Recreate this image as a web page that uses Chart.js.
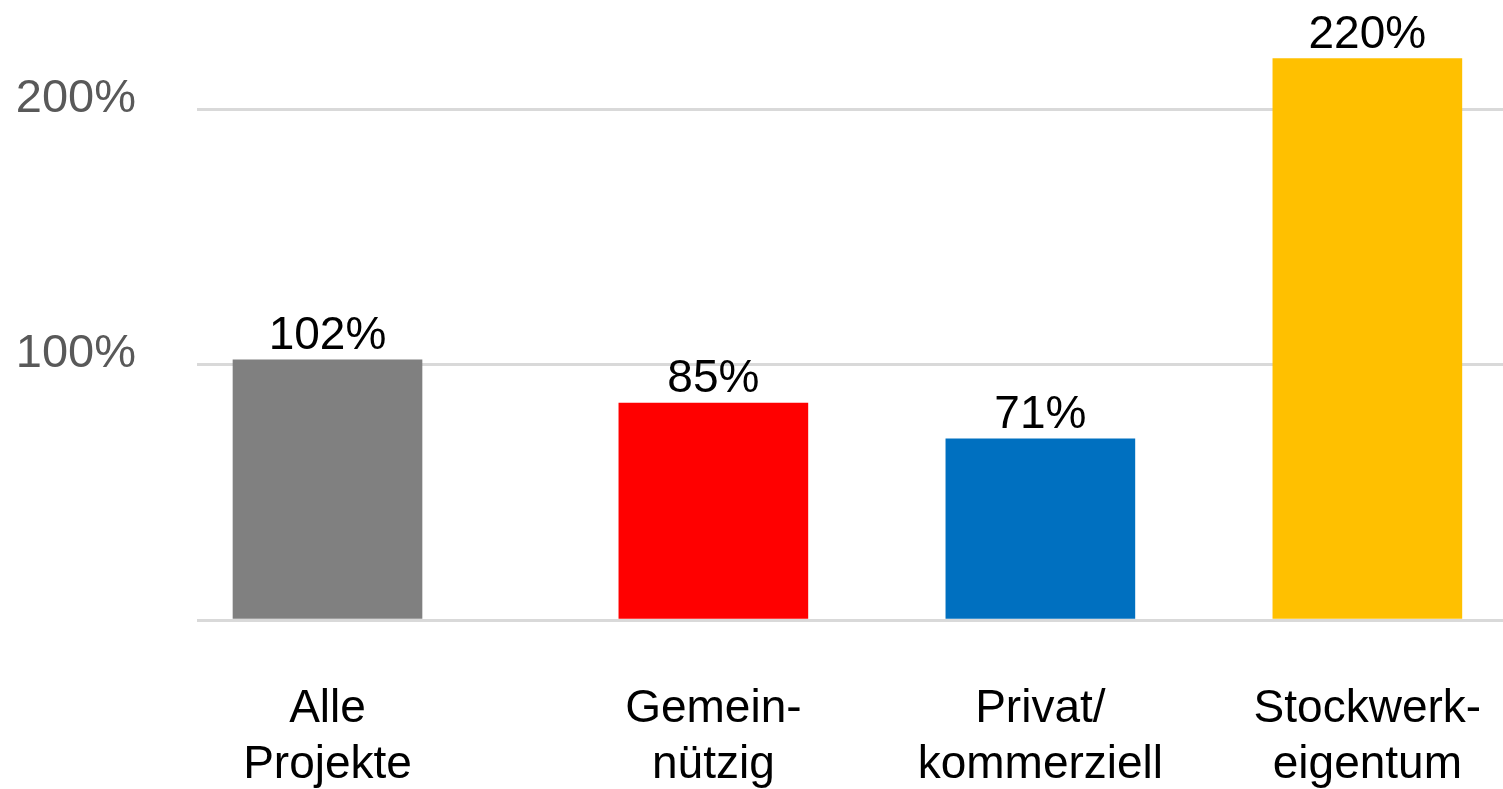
<!DOCTYPE html>
<html>
<head>
<meta charset="utf-8">
<script src="https://cdn.jsdelivr.net/npm/chart.js@4"></script>
<style>
  html, body { margin: 0; padding: 0; background: #fff; overflow: hidden; }
</style>
</head>
<body>
<canvas id="myBarChart" width="1503" height="789"></canvas>
<script>
// categories (two lines each) and values in percent
const categories = [['Alle', 'Projekte'], ['Gemein-', 'nützig'], ['Privat/', 'kommerziell'], ['Stockwerk-', 'eigentum']];
const values = [102, 85, 71, 220];
// slot of each bar on the x scale (first bar stands a bit apart)
const xSlots = [1, 2.18, 3.18, 4.18];
const yTicks = [0, 100, 200];
const yTickLabels = ['', '100%', '200%'];
const barColors = ['#808080', '#ff0000', '#0070c0', '#ffc000'];

const valueLabels = {
  id: 'valueLabels',
  afterDatasetsDraw(chart) {
    const ctx = chart.ctx;
    const meta = chart.getDatasetMeta(0);
    ctx.save();
    ctx.font = '46px "Liberation Sans", Arial, sans-serif';
    ctx.fillStyle = '#000';
    ctx.textAlign = 'center';
    ctx.textBaseline = 'alphabetic';
    meta.data.forEach((bar, i) => {
      ctx.fillText(values[i] + '%', bar.x, bar.y - 11);
    });
    ctx.restore();
  }
};

var ctx = document.getElementById('myBarChart').getContext('2d');
var myBarChart = new Chart(ctx, {
  type: 'bar',
  data: {
    datasets: [{
      data: values.map((v, i) => ({ x: xSlots[i], y: v })),
      backgroundColor: barColors,
      barThickness: 189,
      borderWidth: 0
    }]
  },
  options: {
    responsive: false,
    animation: false,
    layout: { padding: 0 },
    plugins: {
      legend: { display: false },
      tooltip: { enabled: false }
    },
    scales: {
      x: {
        type: 'linear',
        offset: false,
        min: 0.6009,
        max: 4.5948,
        grid: { display: false, drawTicks: false },
        border: { display: false },
        afterBuildTicks(scale) {
          scale.ticks = xSlots.map(v => ({ value: v }));
        },
        afterFit(scale) {
          scale.height = 169;
          scale.paddingLeft = 0;
          scale.paddingRight = 0;
        },
        ticks: {
          autoSkip: false,
          maxRotation: 0,
          padding: 61,
          color: '#000',
          font: { family: '"Liberation Sans", Arial, sans-serif', size: 46, lineHeight: 1.22 },
          callback: (value, index) => categories[index]
        }
      },
      y: {
        min: 0,
        max: 243,
        grid: { color: '#d9d9d9', lineWidth: 3, drawTicks: false },
        border: { display: false },
        afterBuildTicks(scale) {
          scale.ticks = yTicks.map(v => ({ value: v }));
        },
        afterFit(scale) {
          scale.width = 197;
          scale.paddingTop = 0;
          scale.paddingBottom = 0;
        },
        ticks: {
          padding: 61,
          labelOffset: -11,
          color: '#595959',
          font: { family: '"Liberation Sans", Arial, sans-serif', size: 47 },
          callback: (value, index) => yTickLabels[index]
        }
      }
    }
  },
  plugins: [valueLabels]
});
</script>
</body>
</html>
